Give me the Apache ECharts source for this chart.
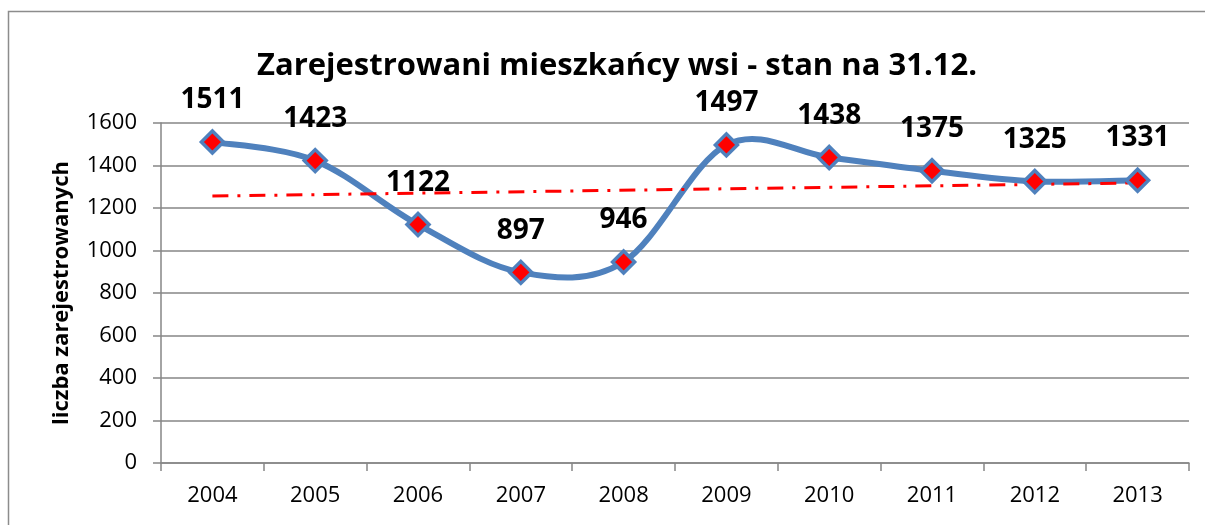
<!DOCTYPE html>
<html>
<head>
<meta charset="utf-8">
<script src="https://cdn.jsdelivr.net/npm/echarts@6/dist/echarts.min.js"></script>
<style>
html,body{margin:0;padding:0;background:#fff;}
#c{width:1205px;height:525px;}
</style>
</head>
<body>
<div id="c"></div>
<script>
const title = 'Zarejestrowani mieszkańcy wsi - stan na 31.12.';
const yAxisName = 'liczba zarejestrowanych';
const years = ['2004','2005','2006','2007','2008','2009','2010','2011','2012','2013'];
const residents = [1511, 1423, 1122, 897, 946, 1497, 1438, 1375, 1325, 1331];
// linear trend line: value at first and last year
const trend = [1256, null, null, null, null, null, null, null, null, 1318];
const yTicks = {min: 0, max: 1600, interval: 200};

const chart = echarts.init(document.getElementById('c'), null, {renderer: 'canvas'});
const FONT = '"Open Sans", "Liberation Sans", sans-serif';
const GRAY = '#868686';
const BLUE = '#4F81BD';

// Smooth (Catmull-Rom style) curve through the data points, positioned by the axes.
function renderCurve(params, api) {
  if (params.dataIndex !== 0) return null;
  const pts = residents.map((v, i) => api.coord([i, v]));
  const n = pts.length;
  let d = 'M' + pts[0][0] + ' ' + pts[0][1];
  for (let i = 0; i < n - 1; i++) {
    const p0 = pts[Math.max(i - 1, 0)], p1 = pts[i], p2 = pts[i + 1], p3 = pts[Math.min(i + 2, n - 1)];
    const c1x = p1[0] + (p2[0] - p0[0]) / 6, c1y = p1[1] + (p2[1] - p0[1]) / 6;
    const c2x = p2[0] - (p3[0] - p1[0]) / 6, c2y = p2[1] - (p3[1] - p1[1]) / 6;
    d += ' C' + c1x + ' ' + c1y + ' ' + c2x + ' ' + c2y + ' ' + p2[0] + ' ' + p2[1];
  }
  return {
    type: 'path',
    shape: {pathData: d},
    style: {fill: 'none', stroke: BLUE, lineWidth: 6, lineJoin: 'round', lineCap: 'round'}
  };
}

chart.setOption({
  animation: false,
  backgroundColor: '#fff',
  graphic: [{
    type: 'rect',
    shape: {x: 8.5, y: 11.5, width: 1210, height: 530},
    style: {fill: 'none', stroke: '#8c8c8c', lineWidth: 1.5},
    silent: true
  }],
  title: {
    text: title,
    left: 612,
    textAlign: 'center',
    top: 46,
    textStyle: {fontFamily: FONT, fontWeight: 'bold', fontSize: 31, color: '#000'}
  },
  grid: {left: 161, right: 16, top: 123, bottom: 62, containLabel: false},
  xAxis: {
    type: 'category',
    data: years,
    boundaryGap: true,
    axisLine: {lineStyle: {color: GRAY, width: 1.5}},
    axisTick: {show: true, length: 8, lineStyle: {color: GRAY, width: 1.5}},
    axisLabel: {fontFamily: FONT, fontSize: 22, color: '#000', margin: 22},
    splitLine: {show: false}
  },
  yAxis: {
    type: 'value',
    min: yTicks.min, max: yTicks.max, interval: yTicks.interval,
    name: yAxisName,
    nameLocation: 'middle',
    nameGap: 88,
    nameTextStyle: {fontFamily: FONT, fontWeight: 'bold', fontSize: 22, color: '#000'},
    axisLine: {show: true, lineStyle: {color: GRAY, width: 1.5}},
    axisTick: {show: true, length: 8, lineStyle: {color: GRAY, width: 1.5}},
    axisLabel: {fontFamily: FONT, fontSize: 22, color: '#000', margin: 24, formatter: v => String(v)},
    splitLine: {show: true, lineStyle: {color: GRAY, width: 1.5}}
  },
  series: [
    {
      type: 'custom',
      data: residents.map((v, i) => [i, v]),
      renderItem: renderCurve,
      z: 2,
      silent: true
    },
    {
      type: 'line',
      data: trend,
      connectNulls: true,
      z: 3,
      symbol: 'none',
      lineStyle: {color: '#FF0000', width: 3, type: [16, 9, 3, 9]},
      label: {show: false}
    },
    {
      type: 'line',
      data: residents,
      z: 4,
      lineStyle: {width: 0, opacity: 0},
      symbol: 'diamond',
      symbolSize: 22,
      itemStyle: {color: '#FF0000', borderColor: BLUE, borderWidth: 3.5},
      label: {
        show: true, position: 'top', distance: 15,
        fontFamily: FONT, fontWeight: 'bold', fontSize: 28, color: '#000'
      }
    }
  ]
});
</script>
</body>
</html>
